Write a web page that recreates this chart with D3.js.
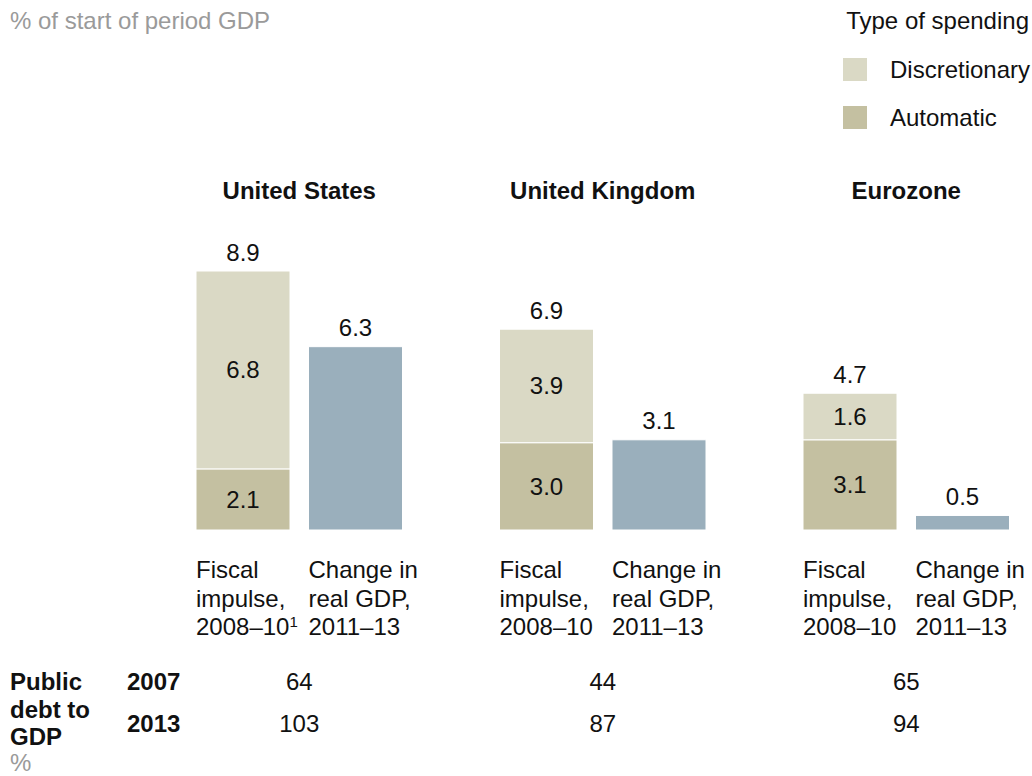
<!DOCTYPE html>
<html>
<head>
<meta charset="utf-8">
<script src="https://cdn.jsdelivr.net/npm/d3@7"></script>
<style>
  html, body { margin: 0; padding: 0; background: #fff; }
  svg { display: block; font-family: "Liberation Sans", Arial, sans-serif; }
</style>
</head>
<body>
<svg id="chart" width="1032" height="776"></svg>
<script>
const countries = ["United States", "United Kingdom", "Eurozone"];
const automatic = [2.1, 3.0, 3.1];
const discretionary = [6.8, 3.9, 1.6];
const fiscalTotal = [8.9, 6.9, 4.7];
const gdpChange = [6.3, 3.1, 0.5];
const fiscalLabels = [["Fiscal", "impulse,", "2008–10", "1"], ["Fiscal", "impulse,", "2008–10", ""], ["Fiscal", "impulse,", "2008–10", ""]];
const gdpLabel = ["Change in", "real GDP,", "2011–13"];
const debtYears = ["2007", "2013"];
const debt2007 = [64, 44, 65];
const debt2013 = [103, 87, 94];
const legendItems = ["Discretionary", "Automatic"];

const colors = { disc: "#dad9c5", auto: "#c4c0a1", gdp: "#9aafbc" };
const FS = 24;

const svg = d3.select("#chart");

const x0 = d3.scaleBand().domain(countries).range([196, 196 + 3 * 303.5]).padding(0);
const x1 = d3.scaleBand().domain(["fiscal", "gdp"]).range([0, 206.5]).paddingInner(0.1644).paddingOuter(0);
const y = d3.scaleLinear().domain([0, 8.9]).range([530, 271]);
const bw = x1.bandwidth();
const groupCenter = c => x0(c) + 206.5 / 2;

// header
svg.append("text").attr("x", 10).attr("y", 29).attr("font-size", FS).attr("fill", "#9a9a9a")
  .text("% of start of period GDP");
svg.append("text").attr("x", 1029).attr("y", 29).attr("text-anchor", "end").attr("font-size", FS).attr("fill", "#111")
  .text("Type of spending");
const legColors = [colors.disc, colors.auto];
legendItems.forEach((l, i) => {
  svg.append("rect").attr("x", 843).attr("y", 58 + i * 48).attr("width", 24).attr("height", 23).attr("fill", legColors[i]);
  svg.append("text").attr("x", 890).attr("y", 78 + i * 48).attr("font-size", FS).attr("fill", "#111").text(l);
});

countries.forEach((c, i) => {
  const g = svg.append("g");
  // title
  g.append("text").attr("x", groupCenter(c)).attr("y", 199).attr("text-anchor", "middle")
    .attr("font-size", FS).attr("font-weight", "bold").attr("fill", "#111").text(c);

  const fx = x0(c) + x1("fiscal");
  const gx = x0(c) + x1("gdp");
  // automatic
  g.append("rect").attr("x", fx).attr("width", bw)
    .attr("y", y(automatic[i])).attr("height", y(0) - y(automatic[i]))
    .attr("fill", colors.auto).attr("stroke", "#fff").attr("stroke-width", 1);
  // discretionary
  g.append("rect").attr("x", fx).attr("width", bw)
    .attr("y", y(automatic[i] + discretionary[i])).attr("height", y(automatic[i]) - y(automatic[i] + discretionary[i]))
    .attr("fill", colors.disc).attr("stroke", "#fff").attr("stroke-width", 1);
  // gdp
  g.append("rect").attr("x", gx).attr("width", bw)
    .attr("y", y(gdpChange[i])).attr("height", y(0) - y(gdpChange[i]))
    .attr("fill", colors.gdp).attr("stroke", "#fff").attr("stroke-width", 1);

  // inner labels
  g.append("text").attr("x", fx + bw / 2).attr("y", (y(0) + y(automatic[i])) / 2 + 8.5)
    .attr("text-anchor", "middle").attr("font-size", FS).attr("fill", "#111").text(automatic[i].toFixed(1));
  g.append("text").attr("x", fx + bw / 2).attr("y", (y(automatic[i]) + y(automatic[i] + discretionary[i])) / 2 + 8.5)
    .attr("text-anchor", "middle").attr("font-size", FS).attr("fill", "#111").text(discretionary[i].toFixed(1));
  // totals
  g.append("text").attr("x", fx + bw / 2).attr("y", y(fiscalTotal[i]) - 10.5)
    .attr("text-anchor", "middle").attr("font-size", FS).attr("fill", "#111").text(fiscalTotal[i].toFixed(1));
  g.append("text").attr("x", gx + bw / 2).attr("y", y(gdpChange[i]) - 10.5)
    .attr("text-anchor", "middle").attr("font-size", FS).attr("fill", "#111").text(gdpChange[i].toFixed(1));

  // category labels
  const fl = fiscalLabels[i];
  [fl[0], fl[1]].forEach((t, k) => {
    g.append("text").attr("x", fx).attr("y", 578 + k * 28.5).attr("font-size", FS).attr("fill", "#111").text(t);
  });
  const t3 = g.append("text").attr("x", fx).attr("y", 578 + 2 * 28.5).attr("font-size", FS).attr("fill", "#111");
  t3.append("tspan").text(fl[2]);
  if (fl[3]) t3.append("tspan").attr("font-size", 15).attr("dy", -8).text(fl[3]);
  gdpLabel.forEach((t, k) => {
    g.append("text").attr("x", gx).attr("y", 578 + k * 28.5).attr("font-size", FS).attr("fill", "#111").text(t);
  });

  // debt values
  g.append("text").attr("x", groupCenter(c)).attr("y", 690).attr("text-anchor", "middle")
    .attr("font-size", FS).attr("fill", "#111").text(debt2007[i]);
  g.append("text").attr("x", groupCenter(c)).attr("y", 732).attr("text-anchor", "middle")
    .attr("font-size", FS).attr("fill", "#111").text(debt2013[i]);
});

// debt table labels
["Public", "debt to", "GDP"].forEach((t, k) => {
  svg.append("text").attr("x", 10).attr("y", 690 + k * 27.5).attr("font-size", FS).attr("font-weight", "bold")
    .attr("fill", "#111").text(t);
});
svg.append("text").attr("x", 10).attr("y", 771).attr("font-size", FS).attr("fill", "#9a9a9a").text("%");
debtYears.forEach((t, k) => {
  svg.append("text").attr("x", 127).attr("y", 690 + k * 42).attr("font-size", FS).attr("font-weight", "bold")
    .attr("fill", "#111").text(t);
});
</script>
</body>
</html>
